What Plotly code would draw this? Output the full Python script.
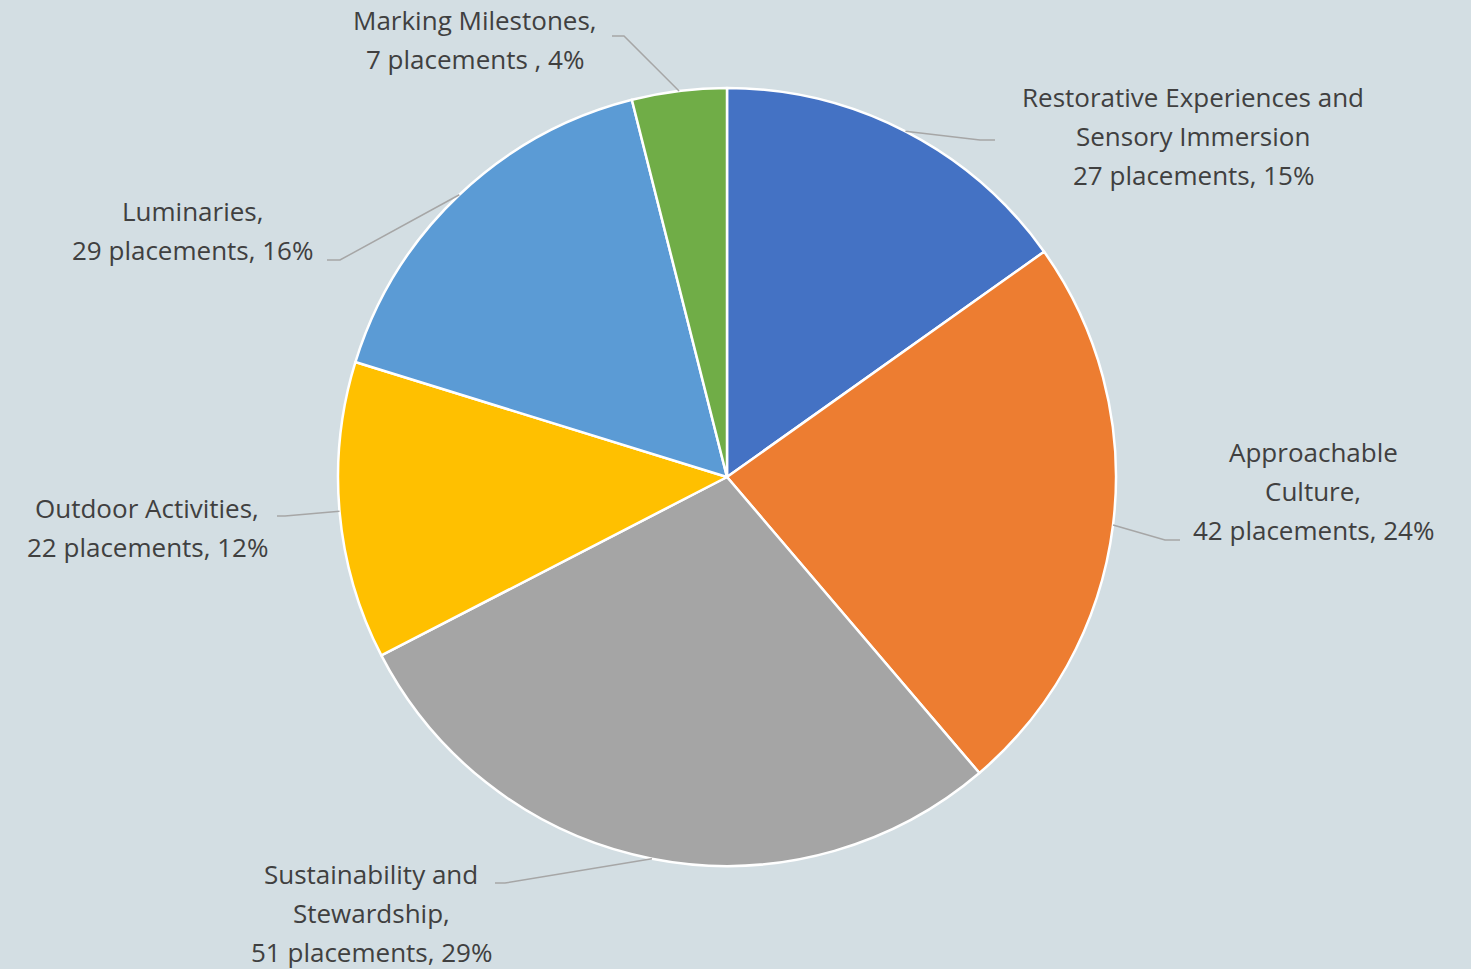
import math
import plotly.graph_objects as go

# ---- data ----
categories = [
    "Restorative Experiences and Sensory Immersion",
    "Approachable Culture",
    "Sustainability and Stewardship",
    "Outdoor Activities",
    "Luminaries",
    "Marking Milestones",
]
placements = [27, 42, 51, 22, 29, 7]
label_lines = [
    ["Restorative Experiences and", "Sensory Immersion", "27 placements, 15%"],
    ["Approachable", "Culture,", "42 placements, 24%"],
    ["Sustainability and", "Stewardship,", "51 placements, 29%"],
    ["Outdoor Activities,", "22 placements, 12%"],
    ["Luminaries,", "29 placements, 16%"],
    ["Marking Milestones,", "7 placements , 4%"],
]
colors = ["#4472C4", "#ED7D31", "#A5A5A5", "#FFC000", "#5B9BD5", "#70AD47"]

# ---- layout (pixels) ----
W, H = 1471, 969
CX, CY, R = 727, 477, 389
BG = "#D3DEE3"
TEXT = "#404040"
LINE_H = 39
# label block centre (x, y of first line) and leader elbow / end points
label_anchor = [(1193, 97), (1313, 452), (371, 874), (147, 508), (192, 211), (475, 20)]
leader_elbow = [(980, 140), (1165, 540), (505, 883), (285, 516), (340, 260), (624, 36)]
leader_end = [(995, 140), (1180, 540), (495, 883), (277, 516), (327, 260), (612, 36)]


def px(x):
    return x / W


def py(y):
    return 1 - y / H


fig = go.Figure(
    go.Pie(
        labels=categories,
        values=placements,
        sort=False,
        direction="clockwise",
        rotation=0,
        marker=dict(colors=colors, line=dict(color="white", width=2.5)),
        textinfo="none",
        hoverinfo="label+value+percent",
        showlegend=False,
        domain=dict(x=[px(CX - R), px(CX + R)], y=[py(CY + R), py(CY - R)]),
    )
)

total = sum(placements)
cum = 0
shapes = []
annotations = []
for i, v in enumerate(placements):
    mid = (cum + v / 2) / total * 2 * math.pi
    cum += v
    ex = CX + R * math.sin(mid)
    ey = CY - R * math.cos(mid)
    bx, by = leader_elbow[i]
    tx, ty = leader_end[i]
    shapes.append(dict(
        type="path", xref="paper", yref="paper",
        path=f"M {px(ex)},{py(ey)} L {px(bx)},{py(by)} L {px(tx)},{py(ty)}",
        line=dict(color="#A6A6A6", width=1.5),
    ))
    ax, ay = label_anchor[i]
    for j, line in enumerate(label_lines[i]):
        annotations.append(dict(
            x=px(ax), y=py(ay + j * LINE_H), xref="paper", yref="paper",
            text=line, showarrow=False, xanchor="center", yanchor="middle",
            font=dict(family="Open Sans, sans-serif", size=26, color=TEXT),
        ))

fig.update_layout(
    width=W, height=H,
    margin=dict(l=0, r=0, t=0, b=0),
    paper_bgcolor=BG, plot_bgcolor=BG,
    shapes=shapes, annotations=annotations,
)

fig.write_html("out.html")
